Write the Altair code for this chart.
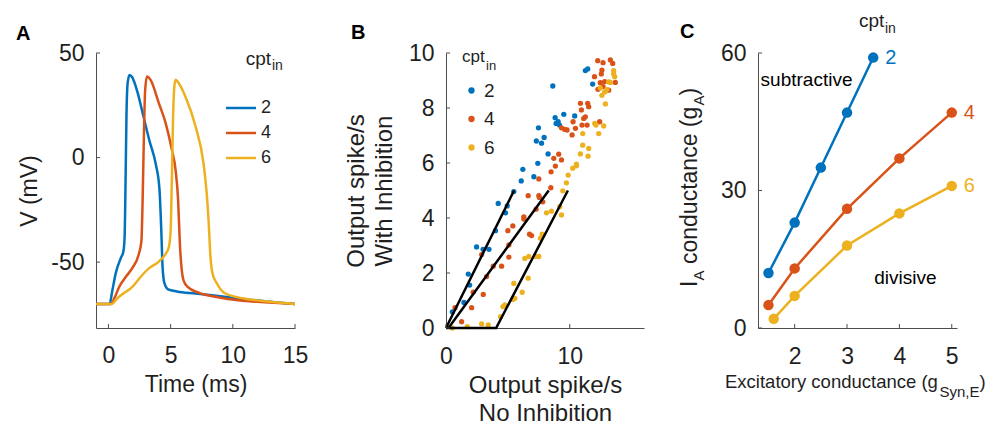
import altair as alt
import pandas as pd

FONT = "Liberation Sans"
TXT = "#1f1f1f"
AXC = "#4d4d4d"
CPT = ["2", "4", "6"]
COLORS = ["#0072BD", "#D95319", "#EDB120"]

# ---------------- Panel A : voltage traces ----------------
a_t_2 = [-1, 0.1, 0.3, 0.6, 1.0, 1.2, 1.3, 1.38, 1.45, 1.55, 1.7, 1.9, 2.3, 2.8, 3.3, 3.8, 4.1, 4.25, 4.35, 4.5, 4.8, 5.5, 7, 10, 13, 15]
a_v_2 = [-70, -70, -64, -55, -48, -45, -38, -10, 20, 36, 39.5, 38.5, 32, 20, 8, -3, -15, -35, -52, -60, -63, -64, -65, -67, -69, -70]
a_t_4 = [-1, 0.2, 0.5, 0.85, 1.4, 1.9, 2.45, 2.65, 2.75, 2.85, 2.95, 3.1, 3.4, 4.05, 4.6, 5.1, 5.4, 5.6, 5.75, 5.9, 6.05, 6.4, 7.2, 9, 12, 15]
a_v_4 = [-70, -70, -67, -62, -57, -53, -46, -40, -20, 10, 32, 38.8, 37, 26, 16.5, 3.7, -6, -20, -42, -54, -59, -62, -64.5, -67, -69, -70]
a_t_6 = [-1, 0.3, 0.6, 1.2, 1.9, 2.6, 3.25, 4.0, 4.6, 4.85, 5.0, 5.1, 5.2, 5.3, 5.4, 5.6, 6.2, 7.0, 7.65, 7.9, 8.05, 8.2, 8.35, 8.7, 9.4, 11, 13, 15]
a_v_6 = [-70, -70, -68, -65, -62, -57, -53, -50, -46, -43, -35, -10, 20, 34, 37.2, 36, 29, 15, -3, -17, -30, -47, -55, -60, -65, -67.5, -69, -70]
A_XTICKS = [0, 5, 10, 15]
A_YTICKS = [-50, 0, 50]

# ---------------- Panel B : scatter ----------------
b_x_2 = [0.51, 1.45, 1.8, 1.91, 2.47, 3.0, 3.47, 4.0, 4.22, 4.81, 4.95, 5.48, 6.08, 6.21, 7.1, 7.42, 7.3, 7.72, 7.93, 7.47, 8.25, 8.63, 8.82, 8.9, 9.06, 9.17, 9.52, 10.4, 11.26, 11.45, 11.85]
b_y_2 = [0.59, 0.93, 1.96, 1.56, 2.95, 2.86, 2.86, 3.54, 4.53, 4.19, 4.44, 4.96, 5.35, 5.77, 5.5, 5.99, 6.8, 6.72, 6.93, 7.28, 6.33, 8.8, 7.65, 7.44, 7.5, 7.38, 7.77, 7.71, 9.36, 9.42, 8.87]
b_x_4 = [0.73, 1.26, 2.07, 2.2, 3.01, 3.28, 2.88, 3.82, 4.49, 5.08, 5.08, 5.0, 5.4, 6.29, 6.29, 6.64, 6.75, 6.91, 7.28, 7.5, 7.55, 7.82, 7.5, 8.47, 8.49, 8.84, 8.71, 9.11, 9.33, 9.33, 9.6, 9.78, 10.19, 10.27, 10.46, 10.86, 10.94, 10.99, 11.13, 11.26, 11.45, 11.53, 11.4, 12.26, 12.69, 12.6, 12.55, 12.47, 12.69, 12.82, 12.0, 12.28, 12.42, 13.15, 13.28, 13.68, 13.47]
b_y_4 = [0.74, 0.23, 0.74, 1.3, 1.22, 1.87, 2.67, 2.25, 2.25, 2.58, 3.02, 3.54, 3.71, 4.04, 3.96, 4.81, 3.41, 3.36, 4.32, 4.81, 4.75, 4.59, 5.42, 5.1, 5.68, 5.89, 6.17, 6.32, 6.11, 7.28, 7.22, 7.2, 7.02, 7.5, 7.26, 8.17, 7.93, 7.38, 7.62, 7.68, 8.17, 8.05, 7.38, 9.72, 9.65, 9.38, 9.24, 8.92, 8.78, 8.96, 9.14, 8.68, 7.5, 8.65, 9.75, 8.93, 9.62]
b_x_6 = [0.51, 1.72, 2.88, 3.41, 4.41, 4.6, 4.76, 5.4, 5.56, 5.48, 6.16, 6.64, 6.37, 6.69, 7.23, 7.5, 7.77, 7.63, 8.12, 8.52, 9.33, 9.19, 9.44, 9.73, 9.87, 10.24, 10.54, 10.54, 10.86, 11.05, 11.48, 11.53, 11.05, 12.02, 12.12, 12.34, 12.74, 12.88, 12.47, 12.6, 12.82, 13.0, 13.15, 13.28, 13.55, 13.55, 13.63]
b_y_6 = [0.0, 0.05, 0.15, 0.11, 0.41, 0.78, 0.84, 1.04, 1.08, 1.62, 1.3, 1.81, 2.53, 2.6, 2.6, 2.6, 3.41, 3.26, 4.19, 4.25, 4.11, 4.41, 4.99, 5.28, 5.56, 5.81, 5.9, 5.96, 6.33, 6.65, 6.25, 6.53, 7.07, 7.44, 7.38, 7.07, 7.35, 8.15, 8.73, 8.46, 8.58, 8.67, 8.95, 8.93, 9.36, 9.24, 9.14]
fit_x_1 = [0, 5.5]
fit_y_1 = [0, 5]
fit_x_2 = [0.2, 8.3]
fit_y_2 = [0, 5]
fit_x_3 = [0, 4.05, 9.85]
fit_y_3 = [0, 0, 5]
B_XTICKS = [0, 10]
B_YTICKS = [0, 2, 4, 6, 8, 10]

# ---------------- Panel C : conductance ----------------
c_x_2 = [1.5, 2, 2.5, 3, 3.5]
c_y_2 = [12, 23, 35, 47, 59]
c_x_4 = [1.5, 2, 3, 4, 5]
c_y_4 = [5, 13, 26, 37, 47]
c_x_6 = [1.6, 2, 3, 4, 5]
c_y_6 = [2, 7, 18, 25, 31]
C_XTICKS = [2, 3, 4, 5]
C_YTICKS = [0, 30, 60]
ann_text = ["subtractive", "divisive"]
ann_x = [1.35, 3.52]
ann_y = [52.8, 9.5]

W_A, W_B, W_C, H = 199, 198, 199, 275
TICK = 4
HYPHEN = "replace(datum.label, '\u2212', '-')"

color_scale = alt.Scale(domain=CPT, range=COLORS)


def long_df(xs_list, ys_list, xname, yname):
    rows = []
    for c, xs, ys in zip(CPT, xs_list, ys_list):
        for xv, yv in zip(xs, ys):
            rows.append({"cpt": c, xname: xv, yname: yv})
    return pd.DataFrame(rows)


def label(text, x, y, size, dx=0, dy=0, angle=0, weight="normal", color=TXT):
    return alt.Chart(pd.DataFrame({"s": [text]})).mark_text(
        align="left", baseline="alphabetic", fontSize=size, fontWeight=weight,
        dx=dx, dy=dy, angle=angle, color=color, font=FONT
    ).encode(text="s:N", x=alt.value(x), y=alt.value(y))


def inward_ticks(xvals, yvals, xenc, yenc, xname, yname):
    tx = alt.Chart(pd.DataFrame({xname: xvals})).mark_rule(color=AXC, strokeWidth=1).encode(
        x=xenc, y=alt.value(H), y2=alt.value(H - TICK))
    ty = alt.Chart(pd.DataFrame({yname: yvals})).mark_rule(color=AXC, strokeWidth=1).encode(
        y=yenc, x=alt.value(0), x2=alt.value(TICK))
    return [tx, ty]


# ---- Panel A ----
dfA = long_df([a_t_2, a_t_4, a_t_6], [a_v_2, a_v_4, a_v_6], "t", "v")
xA = alt.X("t:Q", scale=alt.Scale(domain=[-1, 15], nice=False, zero=False),
           axis=alt.Axis(values=A_XTICKS, title="Time (ms)", labelPadding=16, titlePadding=6))
yA = alt.Y("v:Q", scale=alt.Scale(domain=[-81.5, 50], nice=False, zero=False),
           axis=alt.Axis(values=A_YTICKS, title="V (mV)", labelPadding=12, titlePadding=9,
                         labelExpr=HYPHEN))
linesA = alt.Chart(dfA).mark_line(strokeWidth=2.5, interpolate="monotone").encode(
    x=xA, y=yA,
    color=alt.Color("cpt:N", scale=color_scale, legend=alt.Legend(
        title="cpt", orient="none", legendX=136, legendY=-3, direction="vertical",
        symbolType="M-2,0H2", symbolSize=225, symbolStrokeWidth=2.5,
        labelFontSize=18, labelFont=FONT, labelColor=TXT, labelOffset=11, rowPadding=7,
        titleFontSize=19, titleFont=FONT, titleFontWeight="normal", titleColor=TXT,
        titleAnchor="end", titlePadding=30, padding=0)),
)
chartA = alt.layer(
    linesA, *inward_ticks(A_XTICKS, A_YTICKS, xA, yA, "t", "v"),
    label("A", -80, -13, 20, weight="bold", color="black"),
    label("in", 176, 17, 14),
).properties(width=W_A, height=H)

# ---- Panel B ----
dfB = long_df([b_x_2, b_x_4, b_x_6], [b_y_2, b_y_4, b_y_6], "x", "y")
fit_rows = []
for k, (fx, fy) in enumerate([(fit_x_1, fit_y_1), (fit_x_2, fit_y_2), (fit_x_3, fit_y_3)]):
    for xv, yv in zip(fx, fy):
        fit_rows.append({"fit": k, "x": xv, "y": yv})
dfFit = pd.DataFrame(fit_rows)
xB = alt.X("x:Q", scale=alt.Scale(domain=[0, 16], nice=False, zero=False),
           axis=alt.Axis(values=B_XTICKS, title=["Output spike/s", "No Inhibition"],
                         titleFontSize=24, titleLineHeight=28, labelPadding=17, titlePadding=5))
yB = alt.Y("y:Q", scale=alt.Scale(domain=[0, 10], nice=False, zero=False),
           axis=alt.Axis(values=B_YTICKS, title=["Output spike/s", "With Inhibition"],
                         titleFontSize=24, titleLineHeight=28, labelPadding=12, titlePadding=12))
pointsB = alt.Chart(dfB).mark_circle(size=28, opacity=1).encode(
    x=xB, y=yB,
    color=alt.Color("cpt:N", scale=color_scale, legend=alt.Legend(
        title="cpt", orient="none", legendX=16, legendY=-4, direction="vertical",
        symbolType="circle", symbolSize=40, symbolStrokeWidth=0,
        labelFontSize=19, labelFont=FONT, labelColor=TXT, labelOffset=3, rowPadding=8.5,
        titleFontSize=17, titleFont=FONT, titleFontWeight="normal", titleColor=TXT,
        titlePadding=15, padding=0)),
)
fitB = alt.Chart(dfFit).mark_line(color="black", strokeWidth=2.5).encode(x=xB, y=yB, detail="fit:N")
chartB = alt.layer(
    pointsB, fitB, *inward_ticks(B_XTICKS, B_YTICKS, xB, yB, "x", "y"),
    label("B", -95, -14, 20, weight="bold", color="black"),
    label("in", 40, 17, 13),
).properties(width=W_B, height=H)

# ---- Panel C ----
dfC = long_df([c_x_2, c_x_4, c_x_6], [c_y_2, c_y_4, c_y_6], "g", "ga")
dfEnd = dfC.groupby("cpt", as_index=False).last()
dfAnn = pd.DataFrame({"s": ann_text, "g": ann_x, "ga": ann_y})
xC = alt.X("g:Q", scale=alt.Scale(domain=[1.3, 5.1], nice=False, zero=False),
           axis=alt.Axis(values=C_XTICKS, title=None, labelPadding=17))
yC = alt.Y("ga:Q", scale=alt.Scale(domain=[0, 60], nice=False, zero=False),
           axis=alt.Axis(values=C_YTICKS, title=None, labelPadding=12))
colC = alt.Color("cpt:N", scale=color_scale, legend=None)
linesC = alt.Chart(dfC).mark_line(strokeWidth=2.5).encode(x=xC, y=yC, color=colC)
dotsC = alt.Chart(dfC).mark_circle(size=110, opacity=1).encode(x=xC, y=yC, color=colC)
endC = alt.Chart(dfEnd).mark_text(align="left", baseline="middle", dx=12, fontSize=20, font=FONT).encode(
    x=xC, y=yC, text="cpt:N", color=colC)
annC = alt.Chart(dfAnn).mark_text(align="left", baseline="alphabetic", fontSize=19, font=FONT, color="black").encode(
    x=xC, y=yC, text="s:N")

yt_x, yt_y = -61, 234
xt_x, xt_y = -33, 335
chartC = alt.layer(
    linesC, dotsC, endC, annC, *inward_ticks(C_XTICKS, C_YTICKS, xC, yC, "g", "ga"),
    label("C", -78, -15, 20, weight="bold", color="black"),
    label("cpt", 101, -26, 19),
    label("in", 127, -20, 14),
    # y title: I_A conductance (g_A)
    label("I", yt_x, yt_y, 23, angle=270),
    label("A", yt_x, yt_y, 15, dx=6.6, dy=7, angle=270),
    label("conductance (g", yt_x, yt_y, 23, dx=23, angle=270),
    label("A", yt_x, yt_y, 15, dx=181.5, dy=7, angle=270),
    label(")", yt_x, yt_y, 23, dx=191.5, angle=270),
    # x title: Excitatory conductance (g_Syn,E)
    label("Excitatory conductance (g", xt_x, xt_y, 18.5),
    label("Syn,E", xt_x, xt_y, 15, dx=214.5, dy=9),
    label(")", xt_x, xt_y, 18.5, dx=254.5),
).properties(width=W_C, height=H)

inner = alt.hconcat(chartB, chartC, spacing=34).resolve_scale(color="independent").resolve_legend(color="independent")
chart = alt.hconcat(chartA, inner, spacing=36).resolve_scale(color="independent").resolve_legend(color="independent")
chart = chart.properties(
    padding={"left": 8, "top": 4, "right": 5, "bottom": 5}
).configure(font=FONT).configure_view(stroke=None).configure_axis(
    domainColor=AXC, domainWidth=1, ticks=False, tickSize=0, grid=False,
    labelColor=TXT, labelFontSize=23, labelFont=FONT, labelFlush=False,
    titleColor=TXT, titleFontSize=23, titleFont=FONT, titleFontWeight="normal",
)

chart.save("out.html", embed_options={"renderer": "svg", "actions": False})
